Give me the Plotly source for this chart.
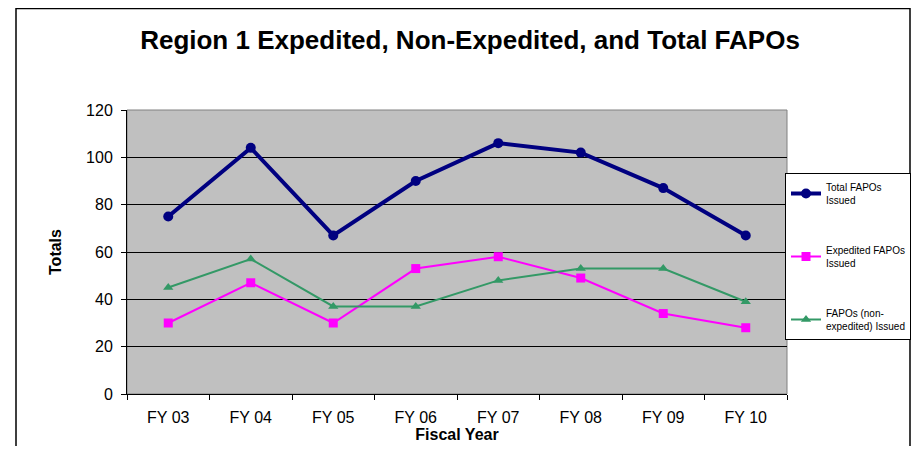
import plotly.graph_objects as go

years = ["FY 03", "FY 04", "FY 05", "FY 06", "FY 07", "FY 08", "FY 09", "FY 10"]
total_fapos = [75, 104, 67, 90, 106, 102, 87, 67]
expedited_fapos = [30, 47, 30, 53, 58, 49, 34, 28]
non_expedited_fapos = [45, 57, 37, 37, 48, 53, 53, 39]

FONT = "Liberation Sans, Arial, sans-serif"

# page body has an 8px margin, so the figure is sized/offset to compensate
W, H = 903, 438
L, T, R, B = 119, 102, 124, 52
PW, PH = W - L - R, H - T - B  # 660 x 284

fig = go.Figure()
fig.add_trace(go.Scatter(
    x=years, y=total_fapos, name="Total FAPOs<br>Issued", mode="lines+markers",
    line=dict(color="#000080", width=4), marker=dict(symbol="circle", size=10, color="#000080"),
    legendgroup="a"))
fig.add_trace(go.Scatter(
    x=years, y=expedited_fapos, name="Expedited FAPOs<br>Issued", mode="lines+markers",
    line=dict(color="#FF00FF", width=2), marker=dict(symbol="square", size=9, color="#FF00FF"),
    legendgroup="b"))
fig.add_trace(go.Scatter(
    x=years, y=non_expedited_fapos, name="FAPOs (non-<br>expedited) Issued", mode="lines+markers",
    line=dict(color="#339966", width=2), marker=dict(symbol="triangle-up", size=9, color="#339966"),
    legendgroup="c"))

fig.update_layout(
    width=W, height=H,
    margin=dict(l=L, r=R, t=T, b=B, autoexpand=False),
    paper_bgcolor="white", plot_bgcolor="#C0C0C0",
    font=dict(family=FONT, color="black", size=16),
    title=dict(text="<b>Region 1 Expedited, Non-Expedited, and Total FAPOs</b>",
               font=dict(size=26, family=FONT), x=(470 - 8) / W, xref="container",
               y=1 - 32 / H, yref="container", xanchor="center", yanchor="middle"),
    showlegend=True,
    legend=dict(x=(785 - 127) / PW, y=(394 - 173) / PH, xanchor="left", yanchor="top",
                bordercolor="black", borderwidth=1, bgcolor="white",
                font=dict(size=10, family=FONT), tracegroupgap=34,
                itemwidth=30),
    xaxis=dict(type="category", range=[-0.5, 7.5], showgrid=False, automargin=False,
               showline=True, linecolor="black", linewidth=1,
               ticks="outside", ticklen=5, tickcolor="black", tickson="boundaries",
               tickfont=dict(size=16), ticklabelstandoff=9,
               title=dict(text="<b>Fiscal Year</b>", font=dict(size=16), standoff=0)),
    yaxis=dict(range=[0, 120], dtick=20, showgrid=True, gridcolor="black", gridwidth=1,
               showline=True, linecolor="black", linewidth=1, zeroline=False, automargin=False,
               ticks="outside", ticklen=5, tickcolor="black",
               tickfont=dict(size=16), ticklabelstandoff=5,
               title=dict(text="<b>Totals</b>", font=dict(size=16), standoff=20)),
)

# plot area border (gray right/top)
fig.add_shape(type="rect", xref="paper", yref="paper", x0=0, y0=0, x1=1, y1=1,
              line=dict(color="#808080", width=1), layer="below")
# outer chart frame
fig.add_shape(type="rect", xref="paper", yref="paper",
              x0=(16 - 127) / PW, x1=(910 - 127) / PW,
              y0=-0.4, y1=(394 - 8.5) / PH,
              line=dict(color="black", width=1.5), fillcolor="rgba(0,0,0,0)", layer="below")

fig.write_html("out.html")
